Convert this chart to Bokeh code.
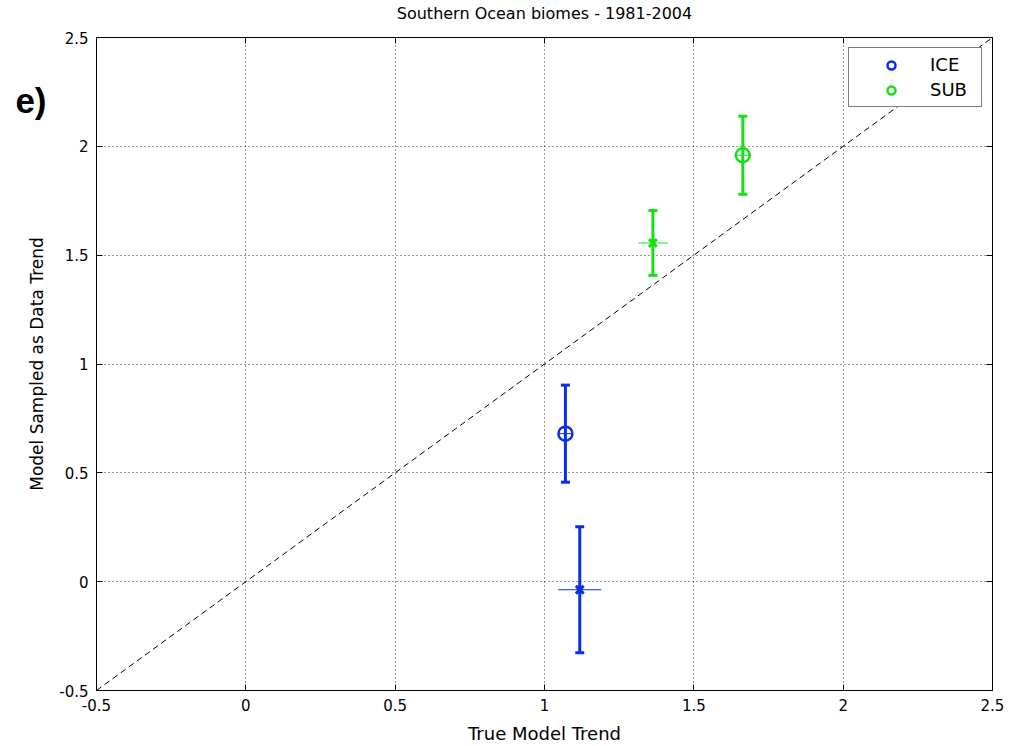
import numpy as np
from bokeh.plotting import figure
from bokeh.models import (FixedTicker, LinearAxis, Legend, LegendItem, Range1d)
from bokeh.embed import file_html
from bokeh.resources import INLINE

# ---- data ----
title_text = "Southern Ocean biomes - 1981-2004"
panel_tag = "e)"
panel_tag_y = 2.21
x_label = "True Model Trend"
y_label = "Model Sampled as Data Trend"
ticks = [-0.5, 0, 0.5, 1, 1.5, 2, 2.5]
tick_labels = ["-0.5", "0", "0.5", "1", "1.5", "2", "2.5"]
title_tick = 1  # centre of the x range, where the title sits

biomes = ["ICE", "SUB"]
colors = {"ICE": "#0b2fe6", "SUB": "#16e016"}

# circle markers ('o')
o_biome = ["ICE", "SUB"]
o_x = [1.07, 1.664]
o_y = [0.68, 1.959]
o_yerr = [0.223, 0.179]
o_xerr = [0.025, 0.028]

# cross markers ('x')
x_biome = ["ICE", "SUB"]
x_x = [1.118, 1.363]
x_y = [-0.037, 1.556]
x_yerr = [0.289, 0.149]
x_xerr = [0.072, 0.049]

FONT = "DejaVu Sans"

p = figure(width=1010, height=746, x_range=Range1d(-0.5, 2.5), y_range=Range1d(-0.5, 2.5),
           output_backend="svg", toolbar_location=None,
           min_border_left=96, min_border_right=18, min_border_top=37, min_border_bottom=55,
           background_fill_color="white", border_fill_color="white")

p.outline_line_color = "black"
p.outline_line_width = 1

for ax in (p.xaxis[0], p.yaxis[0]):
    ax.ticker = FixedTicker(ticks=ticks)
    ax.major_label_overrides = {t: l for t, l in zip(ticks, tick_labels)}
    ax.major_tick_in = 6
    ax.major_tick_out = 0
    ax.minor_tick_in = 0
    ax.minor_tick_out = 0
    ax.major_label_text_font = FONT
    ax.major_label_text_font_size = "15px"
    ax.major_label_text_color = "black"
    ax.axis_line_color = "black"
    ax.major_tick_line_color = "black"
    ax.axis_label_text_font = FONT
    ax.axis_label_text_font_size = "18px"
    ax.axis_label_text_font_style = "normal"
    ax.axis_label_text_color = "black"
    ax.major_label_standoff = 8

p.xaxis[0].axis_label = x_label
p.xaxis[0].axis_label_standoff = 9

# outer left axis: carries the panel tag "e)" as its only tick label and the y axis title
tag_axis = LinearAxis(ticker=FixedTicker(ticks=[panel_tag_y]),
                      major_label_overrides={panel_tag_y: panel_tag},
                      major_tick_in=0, major_tick_out=0, minor_tick_in=0, minor_tick_out=0,
                      axis_line_color=None, major_tick_line_color=None,
                      major_label_standoff=10,
                      major_label_text_font="Liberation Sans", major_label_text_font_size="35px",
                      major_label_text_font_style="bold", major_label_text_color="black",
                      axis_label=y_label, axis_label_standoff=-35,
                      axis_label_text_font=FONT, axis_label_text_font_size="17px",
                      axis_label_text_font_style="normal", axis_label_text_color="black")
p.add_layout(tag_axis, "left")

# top axis: inward ticks, and the title as the label of the centre tick
top = LinearAxis(ticker=FixedTicker(ticks=ticks), major_tick_in=6, major_tick_out=0,
                 minor_tick_in=0, minor_tick_out=0, axis_line_color=None,
                 major_tick_line_color="black", major_label_standoff=15,
                 major_label_text_font=FONT, major_label_text_font_size="16px",
                 major_label_text_color="black")
top.major_label_overrides = {t: (title_text if t == title_tick else "") for t in ticks}
p.add_layout(top, "above")

# right axis: inward ticks only
right = LinearAxis(ticker=FixedTicker(ticks=ticks), major_tick_in=6, major_tick_out=0,
                   minor_tick_in=0, minor_tick_out=0, major_label_text_font_size="0px",
                   major_label_standoff=0, axis_line_color=None,
                   major_tick_line_color="black")
right.major_label_overrides = {t: "" for t in ticks}
p.add_layout(right, "right")

p.grid.ticker = FixedTicker(ticks=ticks)
p.grid.grid_line_color = "black"
p.grid.grid_line_dash = "1 3"
p.grid.grid_line_width = 1
p.grid.grid_line_alpha = 0.8

# 1:1 line
p.line([-0.5, 2.5], [-0.5, 2.5], line_color="black", line_dash="6 4", line_width=1)

def draw(xs, ys, yerr, xerr, bs, marker):
    for x, y, ye, xe, b in zip(xs, ys, yerr, xerr, bs):
        c = colors[b]
        p.segment(x0=[x - xe], x1=[x + xe], y0=[y], y1=[y], line_color=c, line_width=1)
        p.segment(x0=[x], x1=[x], y0=[y - ye], y1=[y + ye], line_color=c, line_width=3)
        p.scatter(x=[x, x], y=[y - ye, y + ye], marker="dash", size=9, line_color=c, line_width=3)
        if marker == "circle":
            p.scatter(x=[x], y=[y], marker="circle", size=14, fill_color=None, line_color=c, line_width=2.5)
        else:
            p.scatter(x=[x], y=[y], marker="x", size=11, line_color=c, line_width=3)

draw(o_x, o_y, o_yerr, o_xerr, o_biome, "circle")
draw(x_x, x_y, x_yerr, x_xerr, x_biome, "x")

# legend proxies
items = []
for b in biomes:
    r = p.scatter(x=[np.nan], y=[np.nan], marker="circle", size=10, fill_color=None,
                  line_color=colors[b], line_width=2.5)
    items.append(LegendItem(label=b, renderers=[r]))

legend = Legend(items=items, location="top_right", padding=6, spacing=4,
                glyph_width=72, glyph_height=20, label_height=20, label_width=45,
                label_standoff=3, label_text_font=FONT, label_text_font_size="18px",
                label_text_color="black", border_line_color="black", border_line_width=1,
                background_fill_color="white", background_fill_alpha=1.0, margin=10)
p.add_layout(legend)

open("out.html", "w").write(file_html(p, INLINE))
